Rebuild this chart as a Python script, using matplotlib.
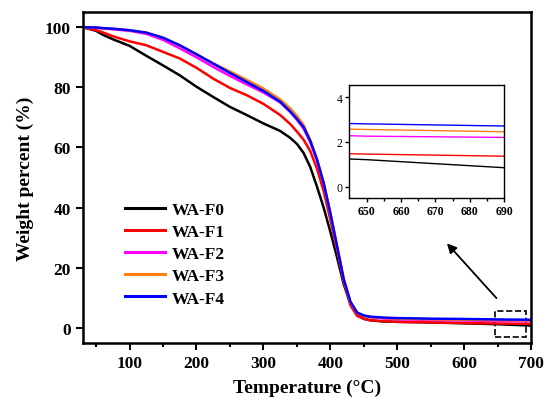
import matplotlib.pyplot as plt
from matplotlib.patches import Rectangle

plt.rcParams['font.family'] = ['Liberation Serif', 'DejaVu Serif']
plt.rcParams['mathtext.fontset'] = 'stix'

# temperature grid (deg C)
temp = [30, 50, 60, 75, 100, 125, 150, 175, 200, 225, 250, 275, 300, 325, 340, 350,
        360, 370, 380, 390, 400, 410, 420, 430, 440, 450, 460, 480, 500, 550, 600, 650, 700]

wa_f0 = [100, 98.8, 97.5, 96.0, 93.8, 90.5, 87.3, 84.0, 80.2, 76.8, 73.5, 70.8, 68.0, 65.5, 63.2, 61.2,
         58.2, 53.5, 47.0, 40.0, 32.0, 23.5, 14.5, 8.0, 4.3, 3.0, 2.5, 2.1, 2.0, 1.8, 1.5, 1.2, 0.75]
wa_f1 = [100, 99.0, 98.3, 97.0, 95.3, 94.0, 91.8, 89.6, 86.5, 82.9, 79.8, 77.4, 74.5, 70.8, 67.8, 65.3,
         62.6, 58.8, 53.0, 45.5, 36.0, 26.0, 15.5, 7.5, 4.0, 3.0, 2.5, 2.2, 2.0, 1.8, 1.6, 1.45, 1.33]
wa_f2 = [100, 99.8, 99.6, 99.3, 98.8, 97.8, 95.8, 93.0, 90.0, 86.8, 83.8, 81.0, 78.3, 75.0, 71.8, 69.3,
         66.3, 61.8, 55.8, 48.0, 38.0, 27.0, 16.0, 8.5, 5.0, 4.0, 3.5, 3.1, 2.9, 2.6, 2.45, 2.25, 2.18]
wa_f3 = [100, 99.9, 99.7, 99.5, 99.0, 98.2, 96.5, 94.0, 91.0, 88.0, 85.3, 82.5, 79.6, 76.0, 73.0, 70.5,
         67.5, 62.5, 56.2, 48.3, 38.2, 27.2, 16.2, 8.6, 5.0, 4.0, 3.6, 3.3, 3.1, 2.85, 2.7, 2.55, 2.42]
wa_f4 = [100, 99.9, 99.7, 99.5, 99.0, 98.2, 96.5, 94.0, 91.0, 87.9, 84.8, 81.8, 78.8, 75.2, 72.0, 69.5,
         66.8, 62.2, 56.0, 48.2, 38.2, 27.2, 16.2, 8.7, 5.1, 4.1, 3.7, 3.4, 3.25, 3.05, 2.95, 2.8, 2.68]

labels = ['WA-F0', 'WA-F1', 'WA-F2', 'WA-F3', 'WA-F4']
colors = ['#000000', '#ff0000', '#ff00ff', '#ff7f0e', '#0000ff']
series = [wa_f0, wa_f1, wa_f2, wa_f3, wa_f4]

fig = plt.figure(figsize=(5.45, 4.06), dpi=100)
ax = fig.add_axes([0.153, 0.153, 0.8215, 0.8145])

for w, c, lab in zip(series, colors, labels):
    ax.plot(temp, w, color=c, lw=1.8, label=lab)

ax.set_xlim(31, 700)
ax.set_ylim(-5, 105)
ax.set_xticks([100, 200, 300, 400, 500, 600, 700])
ax.set_xticks(range(50, 700, 100), minor=True)
ax.set_yticks([0, 20, 40, 60, 80, 100])
ax.tick_params(axis='both', which='major', direction='out', length=5, width=1.5,
               labelsize=12.5, pad=4)
ax.tick_params(axis='x', which='minor', direction='out', length=3, width=1.5)
for lab in ax.get_xticklabels() + ax.get_yticklabels():
    lab.set_fontweight('bold')
for sp in ax.spines.values():
    sp.set_linewidth(1.8)

ax.set_xlabel('Temperature (\u00b0C)', fontsize=14, fontweight='bold', labelpad=5)
ax.set_ylabel('Weight percent (%)', fontsize=14, fontweight='bold', labelpad=8)

leg = ax.legend(loc='upper left', bbox_to_anchor=(0.058, 0.475), frameon=False,
                prop={'weight': 'bold', 'size': 12.5}, handlelength=2.3,
                labelspacing=0.35, handletextpad=0.4)
for h in leg.get_lines():
    h.set_linewidth(2.2)

# dashed box marking the zoomed region
ax.add_patch(Rectangle((646, -3), 46, 8.5, fill=False, ls='--', lw=1.2, ec='black'))
ax.annotate('', xy=(571.5, 28.8), xytext=(651, 9.2),
            arrowprops=dict(arrowstyle='-|>', color='black', lw=1.3, mutation_scale=14))

# inset
axi = fig.add_axes([0.641, 0.5106, 0.2844, 0.2783])
for w, c in zip(series, colors):
    axi.plot(temp, w, color=c, lw=1.0)
axi.set_xlim(645, 690)
axi.set_ylim(-0.5, 4.55)
axi.set_xticks([650, 660, 670, 680, 690])
axi.set_xticks([655, 665, 675, 685], minor=True)
axi.set_yticks([0, 2, 4])
axi.tick_params(axis='both', which='major', direction='out', length=3, width=1.0,
                labelsize=8.5, pad=2)
axi.tick_params(axis='x', which='minor', direction='out', length=2, width=1.0)
for lab in axi.get_xticklabels():
    lab.set_fontweight('bold')
for sp in axi.spines.values():
    sp.set_linewidth(1.0)

fig.savefig('out.png', dpi=100)
